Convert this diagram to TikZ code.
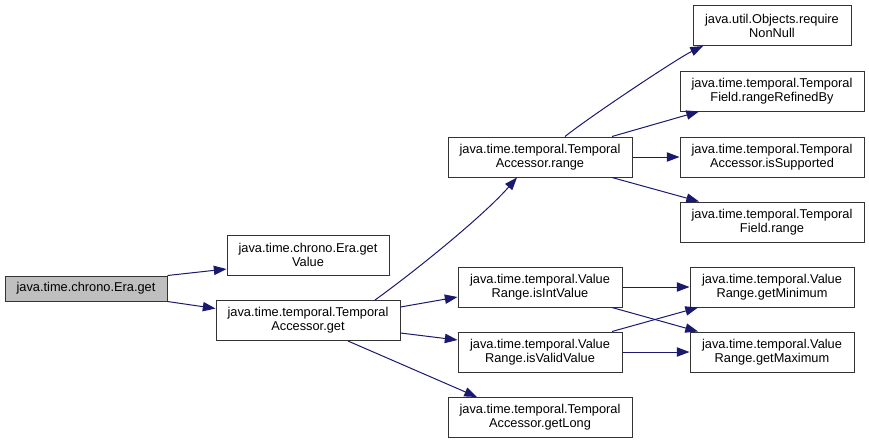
\documentclass[tikz,border=0pt]{standalone}
\usepackage{fontspec}
\setmainfont{Liberation Sans}
\usepackage{xcolor}
\usetikzlibrary{arrows.meta,calc}
\definecolor{edgeblue}{HTML}{191970}
\definecolor{nodegray}{HTML}{BFBFBF}

\begin{document}
\begin{tikzpicture}[
  x=0.75pt, y=-0.75pt,
  fn/.style={rectangle, draw=black!80, line width=0.75pt, minimum height=30pt, inner sep=1pt, align=center, font=\fontsize{9.6}{10.5}\selectfont},
  narrow/.style={fn, minimum width=123pt},
  wide/.style={fn, minimum width=138pt},
  current/.style={fn, fill=nodegray, minimum width=121.5pt, minimum height=18.75pt},
  arr/.style={-{Triangle[length=9.5pt, width=7pt]}, color=edgeblue, line width=0.75pt}
]
\useasboundingbox (0,0) rectangle (869,444);

% Caller
\node[current] (eraget) at (86,288.5) {java.time.chrono.Era.get};

% First level
\node[narrow, minimum width=121.5pt] (getvalue) at (308,255) {java.time.chrono.Era.get\\Value};
\node[wide] (accget) at (308,320.5) {java.time.temporal.Temporal\\Accessor.get};

% Second level
\node[wide] (accrange) at (540,157) {java.time.temporal.Temporal\\Accessor.range};
\node[narrow] (isint) at (540,287) {java.time.temporal.Value\\Range.isIntValue};
\node[narrow] (isvalid) at (540,352) {java.time.temporal.Value\\Range.isValidValue};
\node[wide] (getlong) at (540,417.5) {java.time.temporal.Temporal\\Accessor.getLong};

% Third level
\node[narrow, minimum width=118.5pt] (nonnull) at (772,25.5) {java.util.Objects.require\\NonNull};
\node[wide] (refined) at (772,91) {java.time.temporal.Temporal\\Field.rangeRefinedBy};
\node[wide] (supported) at (772,157) {java.time.temporal.Temporal\\Accessor.isSupported};
\node[wide] (fieldrange) at (772,222) {java.time.temporal.Temporal\\Field.range};
\node[narrow] (getmin) at (772,287) {java.time.temporal.Value\\Range.getMinimum};
\node[narrow] (getmax) at (772,352) {java.time.temporal.Value\\Range.getMaximum};

\draw[arr] (eraget.north east) -- ($(getvalue.west)+(0,14)$);
\draw[arr] (eraget.south east) -- ($(accget.west)+(0,-12)$);
\draw[arr] ($(accget.north)+(67,0)$) .. controls +(35,-25) and +(-35,40) .. ($(accrange.south)+(-23,0)$);
\draw[arr] ($(accget.east)+(0,-13.5)$) -- ($(isint.west)+(0,10)$);
\draw[arr] ($(accget.east)+(0,12.5)$) -- ($(isvalid.west)+(0,-12)$);
\draw[arr] ($(accget.south)+(40,0)$) -- ($(getlong.north)+(-63,0)$);
\draw[arr] ($(accrange.north)+(25,0)$) .. controls +(25,-20) and +(-25,12) .. ($(nonnull.south)+(-69,0)$);
\draw[arr] ($(accrange.north)+(72,0)$) -- ($(refined.south)+(-73,0)$);
\draw[arr] (accrange) -- (supported);
\draw[arr] ($(accrange.south)+(72,0)$) -- ($(fieldrange.north)+(-73,0)$);
\draw[arr] (isint) -- (getmin);
\draw[arr] ($(isint.south)+(72,0)$) -- ($(getmax.north)+(-74,0)$);
\draw[arr] ($(isvalid.north)+(72,0)$) -- ($(getmin.south)+(-74,0)$);
\draw[arr] (isvalid) -- (getmax);
\end{tikzpicture}
\end{document}
